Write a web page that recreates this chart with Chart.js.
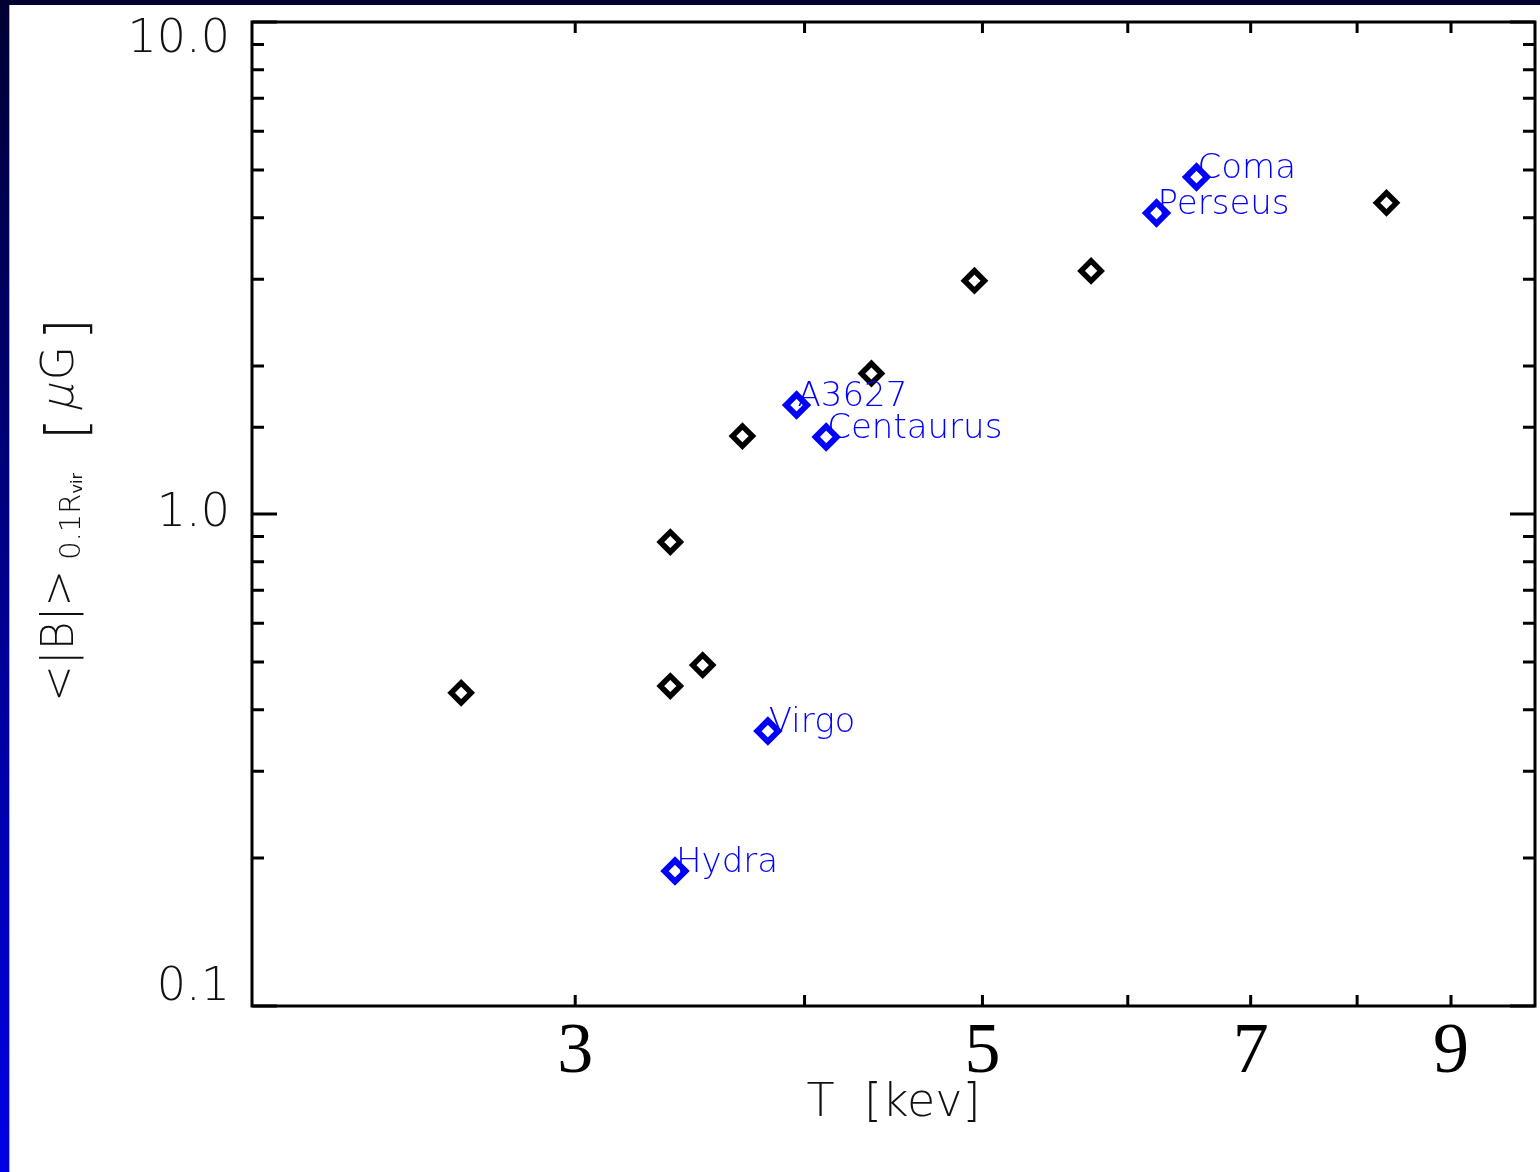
<!DOCTYPE html>
<html>
<head>
<meta charset="utf-8">
<script src="https://cdn.jsdelivr.net/npm/chart.js@4"></script>
<style>
  html, body { margin: 0; padding: 0; background: #fff; overflow: hidden; }
  #topband { position: absolute; left: 0; top: 0; width: 1540px; height: 5px; background: #000033; }
  #leftband { position: absolute; left: 0; top: 0; width: 9px; height: 1172px;
              background: linear-gradient(to bottom, #000033, #0000e6); }
  #leftline { position: absolute; left: 9px; top: 5px; width: 1px; height: 1167px; background: #a8a8f8; }
  #wrap { position: absolute; left: 0; top: 0; width: 1540px; height: 1172px; }
</style>
</head>
<body>
<div id="topband"></div>
<div id="leftband"></div>
<div id="leftline"></div>
<div id="wrap"><canvas id="bfield" width="1540" height="1172"></canvas></div>
<script>
// simulated clusters (black) and observed clusters (blue)
const clusterT = [2.60, 3.38, 3.38, 3.52, 3.70, 4.35, 4.95, 5.73, 8.30];
const clusterB = [0.433, 0.877, 0.447, 0.493, 1.44, 1.93, 2.98, 3.12, 4.29];

const namedClusters = ['Coma', 'Perseus', 'A3627', 'Centaurus', 'Virgo', 'Hydra'];
const namedT = [6.54, 6.22, 3.96, 4.11, 3.82, 3.40];
const namedB = [4.84, 4.09, 1.665, 1.434, 0.362, 0.188];

const xTickLabels = [3, 5, 7, 9];
const yTicks = [0.1, 1, 10];
const yTickLabels = ['0.1', '1.0', '10.0'];

const thin = "'DejaVu Sans', Inter, sans-serif";
const ink = '#111';

function toPoints(xs, ys) {
  return xs.map((x, i) => ({ x: x, y: ys[i] }));
}

// box around the plot plus inward tick marks on all four sides
const framePlugin = {
  id: 'frame',
  afterDraw(chart) {
    const ctx = chart.ctx;
    const a = chart.chartArea;
    const xs = chart.scales.x;
    const ys = chart.scales.y;
    ctx.save();
    ctx.strokeStyle = '#000';
    ctx.lineWidth = 3;
    ctx.strokeRect(a.left, a.top, a.right - a.left, a.bottom - a.top);
    ctx.beginPath();
    xs.ticks.forEach(t => {
      if (t.value <= xs.min || t.value >= xs.max) return;
      const px = xs.getPixelForValue(t.value);
      ctx.moveTo(px, a.bottom); ctx.lineTo(px, a.bottom - 11);
      ctx.moveTo(px, a.top); ctx.lineTo(px, a.top + 11);
    });
    ys.ticks.forEach(t => {
      const py = ys.getPixelForValue(t.value);
      const len = yTicks.includes(t.value) ? 25 : 12;
      ctx.moveTo(a.left, py); ctx.lineTo(a.left + len, py);
      ctx.moveTo(a.right, py); ctx.lineTo(a.right - len, py);
    });
    ctx.stroke();
    ctx.restore();
  }
};

// cluster names next to the blue points
const namePlugin = {
  id: 'names',
  afterDatasetsDraw(chart) {
    const ctx = chart.ctx;
    const meta = chart.getDatasetMeta(1);
    ctx.save();
    ctx.fillStyle = '#0000ff';
    ctx.font = `200 34px ${thin}`;
    ctx.textAlign = 'left';
    ctx.textBaseline = 'alphabetic';
    meta.data.forEach((pt, i) => {
      ctx.fillText(namedClusters[i], pt.x + 1, pt.y + 1);
    });
    ctx.restore();
  }
};

// rotated y title with the sub-/sub-subscript
const yTitlePlugin = {
  id: 'yTitle',
  afterDraw(chart) {
    const ctx = chart.ctx;
    ctx.save();
    ctx.translate(73, 702);
    ctx.rotate(-Math.PI / 2);
    ctx.fillStyle = ink;
    ctx.textAlign = 'left';
    ctx.textBaseline = 'alphabetic';
    let x = 0;
    const put = (text, font, dy, gap, slant) => {
      ctx.font = font;
      ctx.save();
      ctx.translate(x, dy);
      if (slant) ctx.transform(1, 0, -slant, 1, 0, 0);
      ctx.fillText(text, 0, 0);
      ctx.restore();
      x += ctx.measureText(text).width + gap;
    };
    put('<|B|>', `200 44px ${thin}`, 0, 10);
    put('0.1R', `200 29px ${thin}`, 7, 0);
    put('vir', `400 16px ${thin}`, 9, 0);
    x = 262;
    put('[', `200 56px ${thin}`, 12, 6);
    put('\u03bc', `200 44px ${thin}`, 0, 4, 0.25);
    put('G', `200 44px ${thin}`, 0, 6);
    put(']', `200 56px ${thin}`, 12, 0);
    ctx.restore();
  }
};

new Chart(document.getElementById('bfield'), {
  type: 'scatter',
  data: {
    datasets: [{
      data: toPoints(clusterT, clusterB),
      pointStyle: 'rectRot',
      pointRadius: 10,
      pointBorderWidth: 5.5,
      borderColor: '#000',
      backgroundColor: 'rgba(0,0,0,0)'
    }, {
      data: toPoints(namedT, namedB),
      pointStyle: 'rectRot',
      pointRadius: 10.5,
      pointBorderWidth: 6,
      borderColor: '#0000ff',
      backgroundColor: 'rgba(0,0,0,0)'
    }]
  },
  options: {
    responsive: false,
    animation: false,
    layout: { autoPadding: false, padding: { top: 22, right: 5, left: 0, bottom: 0 } },
    plugins: { legend: { display: false }, tooltip: { enabled: false } },
    scales: {
      x: {
        type: 'logarithmic',
        min: 2,
        max: 10,
        grid: { display: false, drawTicks: false },
        border: { display: false },
        // whole keV values only
        afterBuildTicks: s => { s.ticks = s.ticks.filter(t => Number.isInteger(t.value)); },
        ticks: {
          autoSkip: false,
          maxRotation: 0,
          padding: 4,
          color: '#000',
          font: { family: "'Liberation Serif', 'Times New Roman', serif", size: 72 },
          callback: v => xTickLabels.includes(v) ? String(v) : ''
        },
        title: {
          display: true,
          text: 'T  [kev]',
          color: ink,
          font: { family: thin, size: 46, weight: 200 },
          padding: { top: 0, bottom: 40 }
        },
        afterFit: s => { s.height = 166; s.paddingLeft = 0; s.paddingRight = 0; }
      },
      y: {
        type: 'logarithmic',
        min: 0.1,
        max: 10,
        grid: { display: false, drawTicks: false },
        border: { display: false },
        afterBuildTicks: s => { s.ticks = s.ticks.filter(t => t.value >= 0.1 && t.value <= 10); },
        ticks: {
          autoSkip: false,
          padding: 22,
          color: ink,
          font: { family: thin, size: 46, weight: 200, lineHeight: '36px' },
          callback: v => {
            const i = yTicks.indexOf(v);
            if (i < 0) return '';
            if (i === 0) return [yTickLabels[i], ''];
            if (i === yTicks.length - 1) return ['', yTickLabels[i]];
            return yTickLabels[i];
          }
        },
        afterFit: s => { s.width = 252; s.paddingTop = 0; s.paddingBottom = 0; }
      }
    }
  },
  plugins: [framePlugin, namePlugin, yTitlePlugin]
});
</script>
</body>
</html>
